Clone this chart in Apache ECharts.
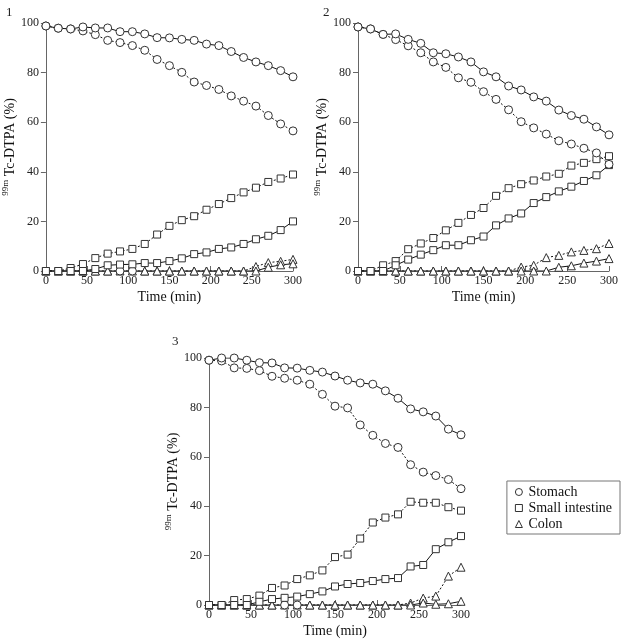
<!DOCTYPE html>
<html><head><meta charset="utf-8">
<script src="https://cdn.jsdelivr.net/npm/echarts@6/dist/echarts.min.js"></script>
<style>html,body{margin:0;padding:0;background:#fff}#c{width:621px;height:639px}</style>
</head><body><div id="c"></div>
<script>
const times = [0,15,30,45,60,75,90,105,120,135,150,165,180,195,210,225,240,255,270,285,300];
const xTicks = [0,50,100,150,200,250,300];
const yTicks = [0,20,40,60,80,100];
const legendNames = ['Stomach','Small intestine','Colon'];

// Panel 1
const p1StomachSolid  = [98.8,97.9,97.6,98.4,98.0,98.0,96.5,96.5,95.6,94.1,94.0,93.4,93.0,91.5,90.9,88.5,86.1,84.3,82.8,80.8,78.3];
const p1StomachDotted = [98.8,97.9,97.6,96.8,95.3,93.0,92.1,90.9,89.0,85.3,82.8,80.1,76.2,74.8,73.2,70.6,68.5,66.5,62.7,59.3,56.5];
const p1SmallSolid    = [0,0,0,0,0.8,2.3,2.6,2.7,3.2,3.2,4.0,5.1,6.8,7.5,8.9,9.5,10.9,12.8,14.2,16.5,20.0];
const p1SmallDotted   = [0,0,1.2,2.8,5.2,7.0,7.9,8.9,10.9,14.7,18.2,20.5,22.1,24.7,27.0,29.4,31.7,33.6,35.9,37.3,38.9];
const p1ColonSolid    = [0,0,0,0,0,0,0,0,0,0,0,0,0,0,0,0,0,0,1.5,2.5,2.9];
const p1ColonDotted   = [0,0,0,0,0,0,0,0,0,0,0,0,0,0,0,0,0,1.8,3.4,3.9,4.7];

// Panel 2
const p2StomachSolid  = [98.4,97.6,95.4,95.6,93.4,91.8,88.0,87.6,86.3,84.3,80.3,78.3,74.6,73.0,70.2,68.5,64.9,62.7,61.2,58.1,54.9];
const p2StomachDotted = [98.4,97.6,95.4,93.3,90.8,88.0,84.3,82.1,77.9,76.1,72.3,69.2,65.0,60.2,57.7,55.2,52.5,51.2,49.5,47.6,43.0];
const p2SmallSolid    = [0,0,0,2.3,4.6,6.6,8.4,10.4,10.4,12.4,13.9,18.4,21.2,23.2,27.4,29.8,32.1,34.0,36.3,38.6,42.7];
const p2SmallDotted   = [0,0,2.3,4.0,8.8,11.1,13.3,16.4,19.4,22.6,25.4,30.3,33.4,35.0,36.5,38.1,39.2,42.5,43.6,45.1,46.3];
const p2ColonSolid    = [0,0,0,0,0,0,0,0,0,0,0,0,0,0,0,0,1.5,2.1,3.2,4.0,5.0];
const p2ColonDotted   = [0,0,0,0,0,0,0,0,0,0,0,0,0,1.6,2.3,5.4,6.3,7.7,8.3,9.0,11.1];

// Panel 3
const p3StomachSolid  = [99.1,100,100,99.1,98.1,98.0,96.0,95.9,95.0,94.3,92.7,91.0,89.9,89.4,86.7,83.7,79.4,78.2,76.5,71.2,68.9];
const p3StomachDotted = [99.1,98.8,96.0,95.8,94.9,92.6,91.8,91.0,89.4,85.3,80.5,79.8,72.9,68.7,65.4,63.8,56.8,53.8,52.4,50.8,47.1];
const p3SmallSolid    = [0,0,0,0,1.3,2.4,2.9,3.4,4.4,5.5,7.5,8.5,8.9,9.7,10.5,10.9,15.6,16.2,22.6,25.4,27.9];
const p3SmallDotted   = [0,0,2.0,2.4,3.8,6.9,7.9,10.5,12.0,14.0,19.4,20.4,26.9,33.4,35.4,36.7,41.8,41.4,41.4,39.6,38.2];
const p3ColonSolid    = [0,0,0,0,0,0,0,0,0,0,0,0,0,0,0,0,0,0.8,0.3,0.5,1.5];
const p3ColonDotted   = [0,0,0,0,0,0,0,0,0,0,0,0,0,0,0,0,0.8,2.8,3.6,11.7,15.3];

const FONT = 'Liberation Serif';
const grids = [
  {left:42, top:23, width:251, height:248},
  {left:358, top:23, width:252, height:248},
  {left:209, top:358, width:252, height:247}
];

function series(name, vals, solid, symbol, g, circleIdx) {
  const size = symbol === 'rect' ? 7 : 8;
  return {
    type:'line', name, xAxisIndex:g, yAxisIndex:g,
    data: times.map((t,i) => {
      const item = {value:[t, vals[i]]};
      if (circleIdx && circleIdx.includes(i)) { item.symbol = 'circle'; item.symbolSize = 8; }
      return item;
    }),
    symbol, symbolSize:size, showAllSymbol:true, animation:false,
    lineStyle:{color:'#111', width:1, type: solid ? 'solid' : [2,2]},
    itemStyle:{color:'#fff', borderColor:'#333', borderWidth:1},
    emphasis:{disabled:true}
  };
}

const panels = [
  [p1StomachSolid,p1StomachDotted,p1SmallSolid,p1SmallDotted,p1ColonSolid,p1ColonDotted,[6,7]],
  [p2StomachSolid,p2StomachDotted,p2SmallSolid,p2SmallDotted,p2ColonSolid,p2ColonDotted,null],
  [p3StomachSolid,p3StomachDotted,p3SmallSolid,p3SmallDotted,p3ColonSolid,p3ColonDotted,[6,7]]
];

const allSeries = [];
panels.forEach((p,g) => {
  allSeries.push(series('Colon', p[5], false, 'triangle', g));
  allSeries.push(series('Colon', p[4], true, 'triangle', g, p[6]));
  allSeries.push(series('Small intestine', p[3], false, 'rect', g));
  allSeries.push(series('Small intestine', p[2], true, 'rect', g));
  allSeries.push(series('Stomach', p[1], false, 'circle', g));
  allSeries.push(series('Stomach', p[0], true, 'circle', g));
});

const axisLine = {show:true, lineStyle:{color:'#666', width:1}};
const labelStyle = {fontFamily:FONT, fontSize:12, color:'#222'};

const option = {
  backgroundColor:'#fff',
  animation:false,
  title: [
    {text:'1', left:1, top:1, textStyle:{fontFamily:FONT, fontSize:13, fontWeight:'normal', color:'#222'}},
    {text:'2', left:318, top:1, textStyle:{fontFamily:FONT, fontSize:13, fontWeight:'normal', color:'#222'}},
    {text:'3', left:167, top:330, textStyle:{fontFamily:FONT, fontSize:13, fontWeight:'normal', color:'#222'}}
  ],
  legend: {
    orient:'vertical', right:1, top:481,
    data: [
      {name:legendNames[0], icon:'circle'},
      {name:legendNames[1], icon:'rect'},
      {name:legendNames[2], icon:'triangle'}
    ],
    itemWidth:7, itemHeight:7, itemGap:2,
    padding:[4,8,3,8],
    borderColor:'#777', borderWidth:1,
    selectedMode:false,
    textStyle:{fontFamily:FONT, fontSize:14, color:'#111', padding:[0,0,0,1]},
    itemStyle:{color:'#fff', borderColor:'#333', borderWidth:1},
    lineStyle:{width:0}
  },
  grid: grids,
  xAxis: grids.map((_,g) => ({
    type:'value', gridIndex:g, min:xTicks[0], max:xTicks[xTicks.length-1], interval:xTicks[1]-xTicks[0],
    name:'Time (min)', nameLocation:'middle', nameGap:19,
    nameTextStyle:{fontFamily:FONT, fontSize:14, color:'#111'},
    axisLine, axisTick:{show:true, inside:true, length:5, lineStyle:{color:'#666'}},
    axisLabel:{...labelStyle, margin:4},
    splitLine:{show:false}
  })),
  yAxis: grids.map((_,g) => ({
    type:'value', gridIndex:g, min:yTicks[0], max:yTicks[yTicks.length-1], interval:yTicks[1]-yTicks[0],
    name:'{sup|99m} Tc-DTPA (%)', nameLocation:'middle', nameGap:26,
    nameTextStyle:{fontFamily:FONT, fontSize:14, color:'#111',
      rich:{sup:{fontFamily:FONT, fontSize:9, color:'#111', verticalAlign:'top', lineHeight:18}}},
    axisLine, axisTick:{show:true, inside:false, length:5, lineStyle:{color:'#666'}},
    axisLabel:{...labelStyle, margin:7},
    splitLine:{show:false}
  })),
  series: allSeries
};

const chart = echarts.init(document.getElementById('c'), null, {renderer:'canvas'});
chart.setOption(option);
</script></body></html>
